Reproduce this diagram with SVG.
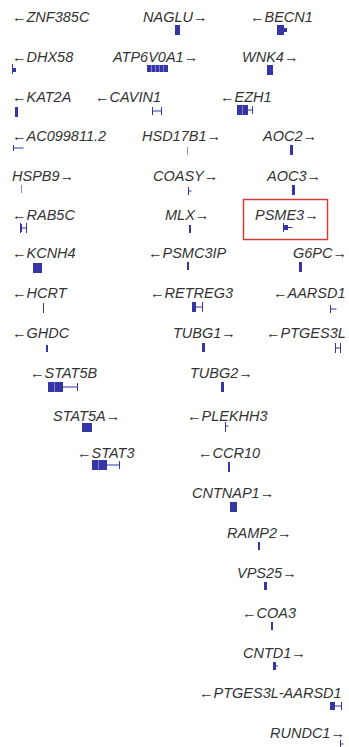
<svg xmlns="http://www.w3.org/2000/svg" width="349" height="747" viewBox="0 0 349 747">
  <style>
    text { font-family: "Liberation Sans", Arial, sans-serif; font-size: 14.5px; font-style: italic; fill: #333; }
    .ex { fill: #3535a5; }
    .in { stroke: #3535a5; stroke-width: 1; fill: none; }
    .thin { stroke: #8c8cc8; stroke-width: 1; fill: none; }
    .gap { stroke: #8080d0; stroke-width: 1; }
    .hl { fill: none; stroke: #d83a3a; stroke-width: 1.5; }
  </style>
  <rect width="349" height="747" fill="#fff"/>

  <!-- gene models, one group per gene: label above its exon/intron glyph -->
  <g id="ZNF385C"><text x="12" y="21.5">←ZNF385C</text></g>
  <g id="NAGLU"><text x="143" y="21.5">NAGLU→</text><rect class="ex" x="175" y="25" width="5" height="10"/></g>
  <g id="BECN1"><text x="250" y="21.5">←BECN1</text><rect class="ex" x="277" y="25" width="7" height="10"/><rect class="ex" x="284" y="28" width="3" height="4"/></g>

  <g id="DHX58"><text x="12" y="61.5">←DHX58</text><line class="in" x1="12.5" y1="64" x2="12.5" y2="74"/><rect class="ex" x="13" y="68" width="3" height="4"/></g>
  <g id="ATP6V0A1"><text x="113" y="61.5">ATP6V0A1→</text><rect class="ex" x="147" y="65" width="21" height="7"/><line class="gap" x1="151.5" y1="65" x2="151.5" y2="72"/><line class="gap" x1="155.5" y1="65" x2="155.5" y2="72"/><line class="gap" x1="159.5" y1="65" x2="159.5" y2="72"/><line class="gap" x1="163.5" y1="65" x2="163.5" y2="72"/></g>
  <g id="WNK4"><text x="242" y="61.5">WNK4→</text><rect class="ex" x="267" y="65" width="6" height="10"/></g>

  <g id="KAT2A"><text x="12" y="101.5">←KAT2A</text><rect class="ex" x="15" y="107" width="3" height="10"/></g>
  <g id="CAVIN1"><text x="95" y="101.5">←CAVIN1</text><path class="in" d="M152.5 107v8M161.5 107v8M152.5 111h9"/></g>
  <g id="EZH1"><text x="220" y="101.5">←EZH1</text><rect class="ex" x="237" y="105" width="11" height="10"/><line class="gap" x1="242.5" y1="105" x2="242.5" y2="115"/><path class="in" d="M248 110h5M252.5 106v8"/></g>

  <g id="AC099811.2"><text x="12" y="141">←AC099811.2</text><path class="in" d="M13.5 145v6M13.5 148h10"/></g>
  <g id="HSD17B1"><text x="142" y="141">HSD17B1→</text><line class="thin" x1="187.5" y1="147" x2="187.5" y2="155"/></g>
  <g id="AOC2"><text x="263" y="141">AOC2→</text><rect class="ex" x="290" y="145" width="3" height="10"/></g>

  <g id="HSPB9"><text x="12" y="181">HSPB9→</text><line class="thin" x1="21.5" y1="185" x2="21.5" y2="193"/></g>
  <g id="COASY"><text x="153" y="181">COASY→</text><path class="in" d="M188.5 187v8M188.5 191h3"/></g>
  <g id="AOC3"><text x="267" y="181">AOC3→</text><rect class="ex" x="292" y="185" width="3" height="10"/></g>

  <g id="RAB5C"><text x="12" y="220">←RAB5C</text><path class="in" d="M20.5 223v10M26.5 223v10M20.5 228h6"/><rect class="ex" x="20" y="224" width="2" height="8"/></g>
  <g id="MLX"><text x="165" y="220">MLX→</text><rect class="ex" x="189" y="225" width="2" height="8"/></g>
  <g id="PSME3"><rect class="hl" x="243.5" y="199.5" width="84" height="40"/><text x="255" y="220">PSME3→</text><path class="in" d="M283.5 223v9M283.5 227.5h9"/><rect class="ex" x="284" y="225" width="4" height="5"/></g>

  <g id="KCNH4"><text x="12" y="258">←KCNH4</text><rect class="ex" x="33" y="263" width="9" height="10"/></g>
  <g id="PSMC3IP"><text x="148" y="258">←PSMC3IP</text><rect class="ex" x="187" y="262" width="2" height="8"/></g>
  <g id="G6PC"><text x="293" y="258">G6PC→</text><rect class="ex" x="299" y="262" width="3" height="10"/></g>

  <g id="HCRT"><text x="12" y="298">←HCRT</text><line class="in" x1="43.5" y1="303" x2="43.5" y2="313"/></g>
  <g id="RETREG3"><text x="150" y="298">←RETREG3</text><rect class="ex" x="192" y="302" width="4" height="10"/><path class="in" d="M196 307h7M202.5 302v10"/></g>
  <g id="AARSD1"><text x="273" y="298">←AARSD1</text><path class="in" d="M330.5 305v8M330.5 309h6"/></g>

  <g id="GHDC"><text x="12" y="338">←GHDC</text><rect class="ex" x="46" y="345" width="2" height="7"/></g>
  <g id="TUBG1"><text x="173" y="338">TUBG1→</text><rect class="ex" x="202" y="343" width="3" height="9"/></g>
  <g id="PTGES3L"><text x="266" y="338">←PTGES3L</text><path class="in" d="M335.5 343v10M340.5 343v10M335.5 348h5"/></g>

  <g id="STAT5B"><text x="30" y="378">←STAT5B</text><rect class="ex" x="48" y="382" width="15" height="10"/><line class="gap" x1="54.5" y1="382" x2="54.5" y2="392"/><path class="in" d="M63 387h15M77.5 383v8"/></g>
  <g id="TUBG2"><text x="190" y="378">TUBG2→</text><rect class="ex" x="221" y="382" width="3" height="10"/></g>

  <g id="STAT5A"><text x="53" y="421">STAT5A→</text><rect class="ex" x="82" y="423" width="10" height="9"/></g>
  <g id="PLEKHH3"><text x="187" y="421">←PLEKHH3</text><path class="in" d="M225.5 422v10M225.5 426h3"/></g>

  <g id="STAT3"><text x="77" y="458">←STAT3</text><rect class="ex" x="92" y="460" width="15" height="10"/><line class="gap" x1="98.5" y1="460" x2="98.5" y2="470"/><path class="in" d="M107 465h13M119.5 461v8"/></g>
  <g id="CCR10"><text x="198" y="458">←CCR10</text><rect class="ex" x="228" y="462" width="2" height="10"/></g>

  <g id="CNTNAP1"><text x="192" y="498">CNTNAP1→</text><rect class="ex" x="230" y="502" width="7" height="10"/></g>
  <g id="RAMP2"><text x="227" y="538">RAMP2→</text><rect class="ex" x="258" y="542" width="2" height="8"/></g>
  <g id="VPS25"><text x="237" y="578">VPS25→</text><rect class="ex" x="264" y="582" width="3" height="8"/></g>
  <g id="COA3"><text x="242" y="618">←COA3</text><rect class="ex" x="271" y="622" width="2" height="8"/></g>
  <g id="CNTD1"><text x="243" y="658">CNTD1→</text><rect class="ex" x="273" y="662" width="3" height="8"/><line class="in" x1="276" y1="666" x2="278" y2="666"/></g>
  <g id="PTGES3L-AARSD1"><text x="199" y="698">←PTGES3L-AARSD1</text><rect class="ex" x="330" y="702" width="5" height="8"/><path class="in" d="M335 706h7M341.5 702v8"/></g>
  <g id="RUNDC1"><text x="270" y="738">RUNDC1→</text><path class="in" d="M340.5 740v7M340.5 744h3"/></g>
</svg>
